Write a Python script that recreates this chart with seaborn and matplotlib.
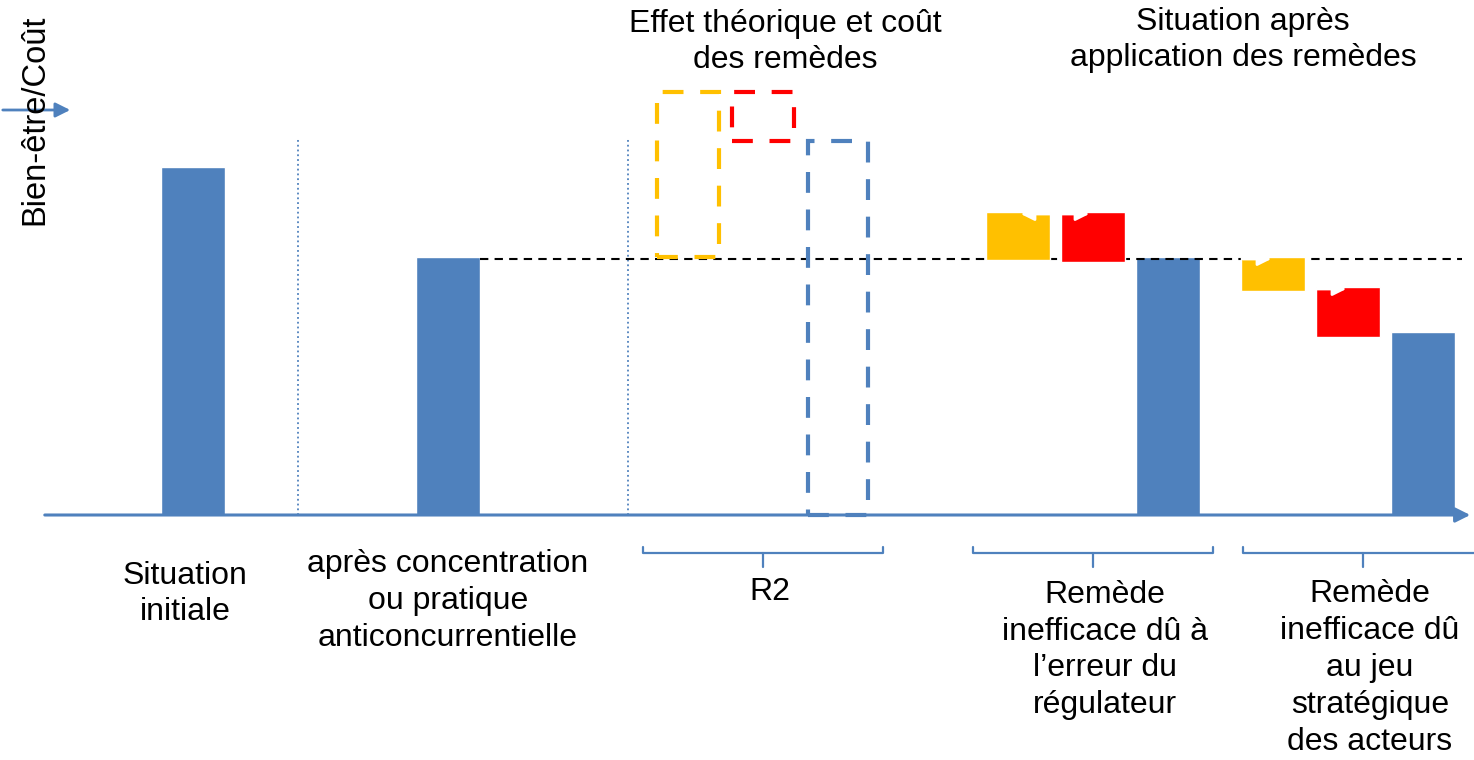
import matplotlib
matplotlib.use("Agg")
import numpy as np
import pandas as pd
import matplotlib.pyplot as plt
import seaborn as sns

# bien-être (indice : situation après concentration = 100)
etapes = ["Situation initiale", "après concentration", "erreur du régulateur", "jeu stratégique"]
bien_etre = [135, 100, 100, 71]

# R2 : effet théorique et coût des remèdes (bas, haut)
r2_effet = [100, 164]
r2_cout = [145, 164]
r2_net = 145

# remède inefficace dû à l'erreur du régulateur (bas, haut)
erreur_effet = [99, 117.5]
erreur_cout = [98, 117.5]

# remède inefficace dû au jeu stratégique des acteurs (bas, haut)
jeu_effet = [87, 100]
jeu_cout = [69, 88.5]

labels_bas = [
    "Situation\ninitiale",
    "après concentration\nou pratique\nanticoncurrentielle",
    "R2",
    "Remède\ninefficace dû à\nl’erreur du\nrégulateur",
    "Remède\ninefficace dû\nau jeu\nstratégique\ndes acteurs",
]
titres = ["Effet théorique et coût\ndes remèdes", "Situation après\napplication des remèdes"]

BLUE = "#4F81BD"
YELLOW = "#FFC000"
RED = "#FF0000"

# mise en page (pixels)
W, H = 1474, 760
BASE = 515
SCALE = 2.58


def yv(py):
    return (BASE - py) / SCALE


blue_x = [193, 448, 1168, 1423]
dashed_x = [688, 763, 838]
err_x = [1018, 1093]
jeu_x = [1273, 1348]
BW = 64

sns.set_theme(style="white")
plt.rcParams["font.family"] = ["Liberation Sans", "DejaVu Sans"]
plt.rcParams["text.color"] = "black"

fig = plt.figure(figsize=(W / 100, H / 100), dpi=100)
ax = fig.add_axes([0, 0, 1, 1])

df = pd.DataFrame({"x": blue_x, "bien_etre": bien_etre, "etape": etapes})
sns.barplot(data=df, x="x", y="bien_etre", native_scale=True,
            width=BW / np.diff(sorted(blue_x)).min(), color=BLUE,
            saturation=1, errorbar=None, ax=ax, zorder=1)

# niveau de référence
ax.plot([480, 1462], [bien_etre[1] - 0.7] * 2, color="black", ls=(0, (4, 3)), lw=1.5, zorder=2)

# remèdes inefficaces
ax.bar(err_x[0], erreur_effet[1] - erreur_effet[0], bottom=erreur_effet[0], width=BW, color=YELLOW, zorder=3)
ax.bar(err_x[1], erreur_cout[1] - erreur_cout[0], bottom=erreur_cout[0], width=BW, color=RED, zorder=3)
ax.bar(jeu_x[0], jeu_effet[1] - jeu_effet[0], bottom=jeu_effet[0], width=BW, color=YELLOW, zorder=3)
ax.bar(jeu_x[1], jeu_cout[1] - jeu_cout[0], bottom=jeu_cout[0], width=BW, color=RED, zorder=3)

# R2 en pointillés
dash = (0, (5, 4))
ax.bar(dashed_x[0], r2_effet[1] - r2_effet[0], bottom=r2_effet[0], width=62, fill=False,
       edgecolor=YELLOW, linestyle=dash, linewidth=3, zorder=3)
ax.bar(dashed_x[1], r2_cout[1] - r2_cout[0], bottom=r2_cout[0], width=62, fill=False,
       edgecolor=RED, linestyle=dash, linewidth=3, zorder=3)
ax.bar(dashed_x[2], r2_net, bottom=0, width=60, fill=False,
       edgecolor=BLUE, linestyle=dash, linewidth=3, zorder=3)

# séparateurs
for sx in [298, 628]:
    ax.plot([sx, sx], [0, yv(139)], color=BLUE, ls=":", lw=1.3, zorder=1)

# axes fléchés
ax.annotate("", xy=(1473, 0), xytext=(42, 0), annotation_clip=False,
            arrowprops=dict(arrowstyle="-|>", color=BLUE, lw=2.2, mutation_scale=22), zorder=2)
ax.annotate("", xy=(73, yv(110)), xytext=(0, yv(110)), annotation_clip=False,
            arrowprops=dict(arrowstyle="-|>", color=BLUE, lw=2, mutation_scale=22), zorder=2)

# flèches blanches
wa = dict(color="white", lw=2, mutation_scale=20)
ax.annotate("", xy=(1092, yv(214)), xytext=(1018, yv(214)),
            arrowprops=dict(arrowstyle="<|-|>", **wa), zorder=5)
ax.annotate("", xy=(1274, yv(259)), xytext=(1240, yv(259)),
            arrowprops=dict(arrowstyle="-|>", **wa), zorder=5)
ax.annotate("", xy=(1349, yv(289)), xytext=(1305, yv(289)),
            arrowprops=dict(arrowstyle="-|>", **wa), zorder=5)

# accolades
for x0, x1, xc in [(643, 883, 763), (973, 1213, 1093), (1243, 1490, 1363)]:
    ax.plot([x0, x0, x1, x1], [yv(547), yv(553), yv(553), yv(547)], color=BLUE, lw=1.6)
    ax.plot([xc, xc], [yv(553), yv(567)], color=BLUE, lw=1.6)

fs = 23
ls = 1.3
for txt, (tx, ty) in zip(labels_bas, [(185, 594), (448, 601), (770, 592), (1105, 650), (1370, 668)]):
    ax.text(tx, yv(ty), txt, ha="center", va="center", fontsize=fs, linespacing=ls)
for txt, (tx, ty) in zip(titres, [(785, 42), (1243, 40)]):
    ax.text(tx, yv(ty), txt, ha="center", va="center", fontsize=fs, linespacing=ls)
ax.text(35, yv(120), "Bien-être/Coût", rotation=90, ha="center", va="center", fontsize=23.5)

ax.set_xlim(0, W)
ax.set_ylim(yv(H), yv(0))
ax.axis("off")

fig.savefig("out.png", dpi=100)
